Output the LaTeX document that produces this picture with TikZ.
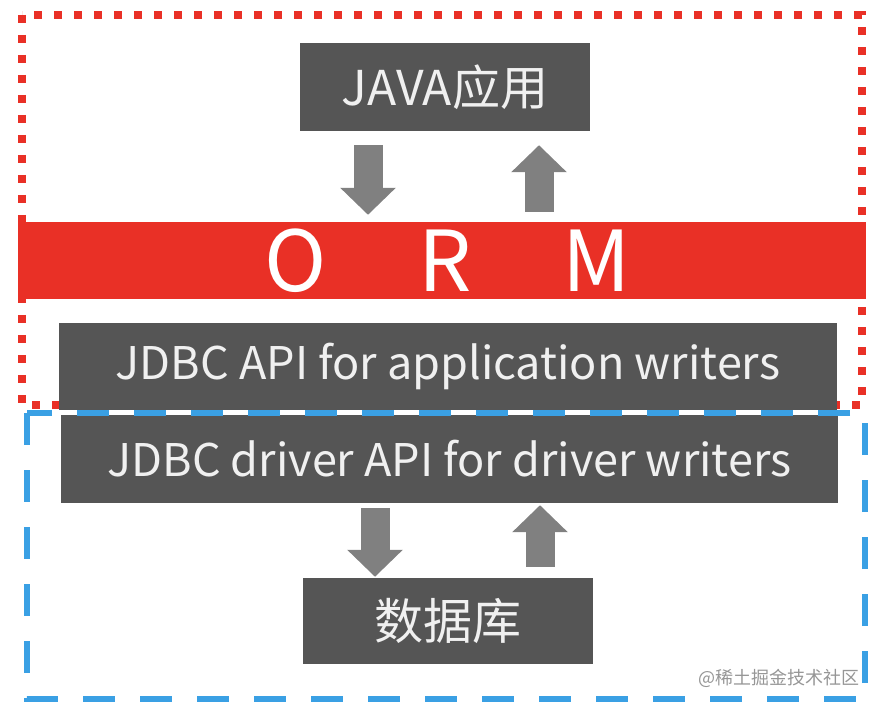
\documentclass[tikz,border=0pt]{standalone}
\usepackage{fontspec}
\setmainfont{Noto Sans CJK SC}
\usetikzlibrary{positioning,arrows.meta,calc}
\definecolor{boxgray}{RGB}{85,85,85}
\definecolor{arrowgray}{RGB}{128,128,128}
\definecolor{ormred}{RGB}{233,48,38}
\definecolor{frameblue}{RGB}{58,160,228}
\definecolor{markgray}{RGB}{150,150,150}
\tikzset{
    layer/.style = {
        shape=rectangle,
        fill=boxgray,
        text=white!94!black,
        inner sep=0pt,
        font=\fontsize{45}{52}\selectfont
    },
    band/.style = {
        shape=rectangle,
        fill=ormred,
        text=white,
        inner sep=0pt,
        font=\fontsize{84}{92}\selectfont
    },
    fatarrow/.style = {
        draw=arrowgray,
        line width=29pt,
        -{Triangle[length=27pt,width=54pt]}
    },
    ormframe/.style = {
        draw=ormred,
        line width=8pt,
        dash pattern=on 8pt off 12pt
    },
    jdbcframe/.style = {
        draw=frameblue,
        line width=6.5pt,
        dash pattern=on 32pt off 25pt
    },
}

\begin{document}
\begin{tikzpicture}[x=1pt,y=-1pt]
            \useasboundingbox (0,0) rectangle (880,708);
            \draw[ormframe] (22,15) rectangle (862,405);

            \node[band, minimum width=848pt, minimum height=77pt] (orm) at (442,260.5) {\hspace*{11pt}O\hspace{92pt}R\hspace{90pt}M};
            \node[layer, minimum width=290pt, minimum height=88pt, font=\fontsize{48}{56}\selectfont] (java) at (445,87) {JAVA应用};
            \node[layer, minimum width=778pt, minimum height=87pt] (api) at (448,366.5) {JDBC API for application writers};
            \node[layer, minimum width=777pt, minimum height=88pt] (driver) at (449.5,459) {JDBC driver API for driver writers};
            \node[layer, minimum width=290pt, minimum height=86pt, font=\fontsize{49}{56}\selectfont] (db) at (448,621) {数据库};

            \draw[jdbcframe] (27,413) rectangle (865,699);

            \coordinate (down1) at ([xshift=-77pt]java.south);
            \coordinate (up1) at ([xshift=94pt]java.south);
            \coordinate (down2) at ([xshift=-73pt]db.north);
            \coordinate (up2) at ([xshift=92pt]db.north);

            \draw[fatarrow, shorten <=14pt, shorten >=7pt] (down1) -- (down1 |- orm.north);
            \draw[fatarrow, shorten <=10pt, shorten >=14pt] (up1 |- orm.north) -- (up1);
            \draw[fatarrow, shorten <=5pt, shorten >=1pt] (down2 |- driver.south) -- (down2);
            \draw[fatarrow, shorten <=11pt, shorten >=2pt] (up2) -- (up2 |- driver.south);

            \node[text=markgray, inner sep=0pt, font=\fontsize{18}{20}\selectfont] (mark) at (779,678) {@稀土掘金技术社区};
        \end{tikzpicture}
\end{document}
